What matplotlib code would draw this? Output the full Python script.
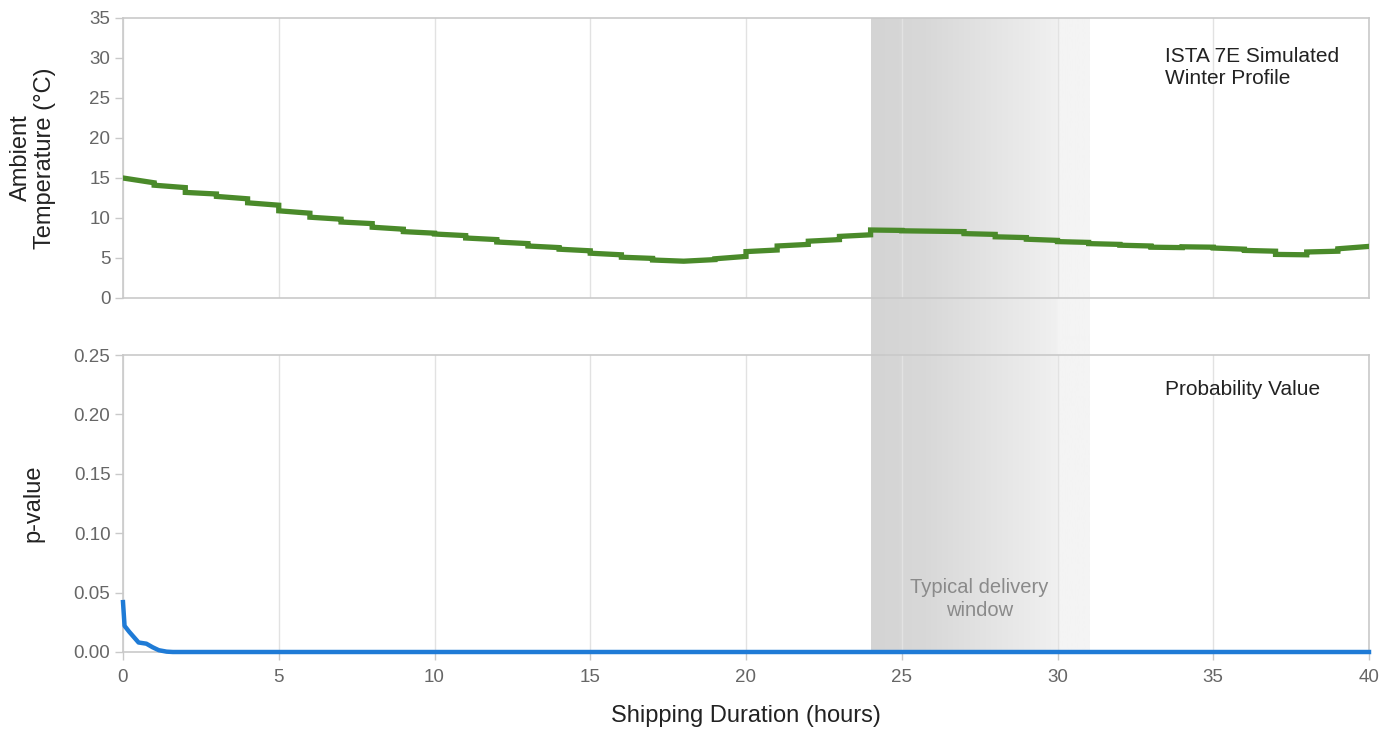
import numpy as np
import matplotlib
matplotlib.use('Agg')
import matplotlib.pyplot as plt
from matplotlib.colors import LinearSegmentedColormap

plt.rcParams['font.family'] = ['Liberation Sans', 'DejaVu Sans']

# Ambient temperature profile: value at start and end of each hour (steps between hours)
temp_hours = list(range(0, 40))
temp_start = [15.0, 14.1, 13.2, 12.7, 11.9, 10.9, 10.1, 9.5, 8.85, 8.3,
              8.0, 7.5, 7.0, 6.5, 6.1, 5.6, 5.1, 4.75, 4.6, 4.9,
              5.8, 6.5, 7.1, 7.7, 8.5, 8.4, 8.35, 8.05, 7.65, 7.35,
              7.05, 6.8, 6.6, 6.35, 6.4, 6.25, 5.95, 5.45, 5.75, 6.15]
temp_end = [14.4, 13.8, 13.0, 12.4, 11.6, 10.6, 9.85, 9.3, 8.6, 8.1,
            7.8, 7.3, 6.8, 6.3, 5.9, 5.4, 4.95, 4.6, 4.8, 5.2,
            6.0, 6.7, 7.3, 7.9, 8.45, 8.35, 8.3, 7.95, 7.55, 7.2,
            6.95, 6.7, 6.5, 6.3, 6.35, 6.1, 5.85, 5.4, 5.85, 6.45]

# p-value over shipping time
p_hours = [0, 0.05, 0.2, 0.5, 0.75, 0.95, 1.15, 1.4, 1.6, 40]
p_values = [0.042, 0.022, 0.017, 0.008, 0.007, 0.004, 0.0015, 0.0003, 0.0, 0.0]

window_start, window_end = 24, 31
x_ticks = [0, 5, 10, 15, 20, 25, 30, 35, 40]
temp_ticks = [0, 5, 10, 15, 20, 25, 30, 35]
p_ticks = [0.0, 0.05, 0.10, 0.15, 0.20, 0.25]

W, H = 1393, 729
fig = plt.figure(figsize=(W / 100, H / 100), dpi=100)

left, width = 123 / W, (1369 - 123) / W
top_ax_rect = [left, 1 - 298 / H, width, (298 - 18) / H]
bot_ax_rect = [left, 1 - 652 / H, width, (652 - 355) / H]

# background band spanning both panels
bg = fig.add_axes([left, 1 - 652 / H, width, (652 - 18) / H], zorder=0)
bg.set_xlim(0, 40)
bg.set_ylim(0, 1)
bg.axis('off')
band_cmap = LinearSegmentedColormap.from_list(
    'band', [(0, '#d4d4d4'), (0.25, '#d8d8d8'), (0.85, '#f0f0f0'), (0.86, '#f4f4f4'), (1, '#f4f4f4')])
grad = np.linspace(0, 1, 256).reshape(1, -1)
bg.imshow(grad, extent=(window_start, window_end, 0, 1), aspect='auto', cmap=band_cmap)

ax1 = fig.add_axes(top_ax_rect, zorder=1)
ax2 = fig.add_axes(bot_ax_rect, zorder=1)

spine_col = '#c9c9c9'
for ax in (ax1, ax2):
    ax.patch.set_alpha(0)
    ax.set_xlim(0, 40)
    ax.set_xticks(x_ticks)
    ax.grid(True, axis='x', color='#e2e2e2', linewidth=1)
    ax.set_axisbelow(True)
    for s in ax.spines.values():
        s.set_color(spine_col)
        s.set_linewidth(1.2)
    ax.tick_params(colors=spine_col, labelcolor='#666666', labelsize=13.5, length=6, width=1, pad=3)

# build the stepped temperature trace from the start/end values
tx, ty = [], []
for h, a, b in zip(temp_hours, temp_start, temp_end):
    tx += [h, h + 1]
    ty += [a, b]
ax1.plot(tx, ty, color='#4a8a2a', linewidth=3.8, zorder=3, solid_joinstyle='miter')
ax1.set_ylim(0, 35)
ax1.set_yticks(temp_ticks)
ax1.tick_params(axis='x', labelbottom=False, length=0)
ax1.set_ylabel('Ambient\nTemperature (°C)', fontsize=17, color='#222222', linespacing=1.1)
ax1.yaxis.set_label_coords((56 - 123) / 1246, 0.5)
ax1.text(1165 / W, 1 - 67 / H, 'ISTA 7E Simulated\nWinter Profile', transform=fig.transFigure,
         fontsize=15, color='#222222', va='center', ha='left', linespacing=1.2)

ax2.plot(p_hours, p_values, color='#1f7bd6', linewidth=3.2, clip_on=False, zorder=3)
ax2.set_ylim(0, 0.25)
ax2.set_yticks(p_ticks)
ax2.set_yticklabels([f'{v:.2f}' for v in p_ticks])
ax2.set_ylabel('p-value', fontsize=17, color='#222222')
ax2.yaxis.set_label_coords((44 - 123) / 1246, 0.5)
ax2.set_xlabel('Shipping Duration (hours)', fontsize=17, color='#222222', labelpad=14)
ax2.tick_params(axis='x', pad=6)
ax2.text(1165 / W, 1 - 389 / H, 'Probability Value', transform=fig.transFigure,
         fontsize=15, color='#222222', va='center', ha='left')
ax2.text(27.5, 0.0445, 'Typical delivery\nwindow', fontsize=14.5, color='#8a8a8a',
         ha='center', va='center', linespacing=1.25)

fig.savefig('out.png', dpi=100)
